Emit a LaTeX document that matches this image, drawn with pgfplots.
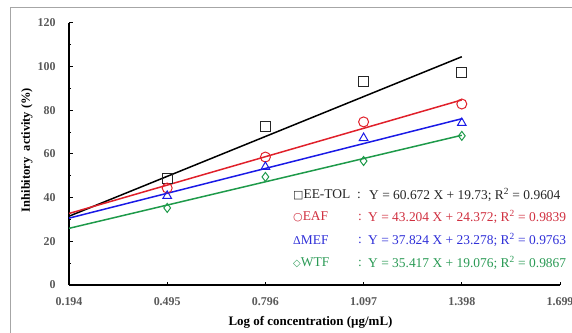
\documentclass[border=0pt]{standalone}
\usepackage{pgfplots}
\pgfplotsset{compat=1.18}
\usepackage{fontspec}
\setmainfont{Liberation Serif}
\newfontfamily\symfont{DejaVu Sans}
\definecolor{cEE}{HTML}{000000}
\definecolor{cEAF}{HTML}{E0202A}
\definecolor{cMEF}{HTML}{1A1AE6}
\definecolor{cWTF}{HTML}{1E9A4A}
\definecolor{tEAF}{HTML}{D03040}
\definecolor{tMEF}{HTML}{3030D8}
\definecolor{tWTF}{HTML}{2A9A55}
\definecolor{tickgray}{HTML}{595959}
\begin{document}
\begin{tikzpicture}
\useasboundingbox (-69bp,-48bp) rectangle (503bp,285bp);
\draw[black!35, line width=0.8bp] (-59bp,-60bp) -- (-59bp,278bp) -- (520bp,278bp);
\begin{axis}[
  scale only axis,
  width=491bp, height=262bp,
  xmin=0.194, xmax=1.699, ymin=0, ymax=120,
  axis lines=left,
  axis line style={-, line width=1.6bp},
  xtick={0.194,0.495,0.796,1.097,1.398,1.699},
  xticklabels={0.194,0.495,0.796,1.097,1.398,1.699},
  ytick={0,20,40,60,80,100,120},
  minor y tick num=1,
  tick align=inside,
  major tick length=3.5bp, minor tick length=2.5bp,
  tick style={black, line width=1bp},
  /pgf/number format/assume math mode=true,
  ticklabel style={font=\fontsize{12}{14}\selectfont\bfseries, text=tickgray},
  xticklabel style={anchor=center, yshift=-17bp},
  yticklabel style={anchor=east, xshift=-10bp},
  xlabel={Log of concentration (\textmu g/mL)},
  ylabel={Inhibitory\ \ activity (\%)},
  xlabel style={font=\fontsize{13}{15}\selectfont\bfseries, at={(axis description cs:0.5,0)}, anchor=center, yshift=-37bp, xshift=-4bp},
  ylabel style={font=\fontsize{12.5}{15}\selectfont\bfseries, at={(axis description cs:0,0.5)}, anchor=center, yshift=42bp, xshift=4bp},
  clip=false,
]
% regression lines
\addplot[cEE, line width=1.5bp] coordinates {(0.194,31.50) (1.398,104.55)};
\addplot[cEAF, line width=1.5bp] coordinates {(0.194,32.75) (1.398,84.77)};
\addplot[cMEF, line width=1.5bp] coordinates {(0.194,30.62) (1.398,76.16)};
\addplot[cWTF, line width=1.5bp] coordinates {(0.194,25.95) (1.398,68.59)};
% data points
\addplot[only marks, mark=square, mark size=5bp, mark options={draw=black!85, line width=1bp, fill=none}]
  coordinates {(0.495,48.6) (0.796,72.4) (1.097,93.0) (1.398,97.1)};
\addplot[only marks, mark=o, mark size=5bp, mark options={draw=cEAF, line width=1bp, fill=none}]
  coordinates {(0.495,44.4) (0.796,58.6) (1.097,74.7) (1.398,82.9)};
\addplot[only marks, mark=triangle, mark size=5bp, mark options={draw=cMEF, line width=1bp, fill=none}]
  coordinates {(0.495,40.8) (0.796,54.1) (1.097,67.3) (1.398,74.2)};
\addplot[only marks, mark=diamond, mark size=4.5bp, mark options={draw=cWTF, line width=1bp, fill=none}]
  coordinates {(0.495,35.3) (0.796,49.5) (1.097,56.8) (1.398,68.3)};
\end{axis}
\begin{scope}[every node/.style={inner sep=0pt, font=\fontsize{13.5}{16}\selectfont}]
\node[anchor=west, text=black!85] at (224bp,90bp) {{\symfont\fontsize{11}{13}\selectfont □}EE-TOL};
\node[text=black!85] at (290bp,90bp) {:};
\node[anchor=west, text=black!85] at (300bp,90bp) {Y = 60.672 X + 19.73; R\textsuperscript{2} = 0.9604};
\node[anchor=west, text=tEAF] at (224bp,68bp) {{\symfont\fontsize{11}{13}\selectfont ○}EAF};
\node[text=tEAF] at (291bp,68bp) {:};
\node[anchor=west, text=tEAF] at (299bp,68bp) {Y = 43.204 X + 24.372; R\textsuperscript{2} = 0.9839};
\node[anchor=west, text=tMEF] at (224bp,45bp) {{\fontsize{12}{13}\selectfont Δ}MEF};
\node[text=tMEF] at (291bp,45bp) {:};
\node[anchor=west, text=tMEF] at (299bp,45bp) {Y = 37.824 X + 23.278; R\textsuperscript{2} = 0.9763};
\node[anchor=west, text=tWTF] at (224bp,22bp) {{\symfont\fontsize{10}{13}\selectfont ◇}WTF};
\node[text=tWTF] at (291bp,22bp) {:};
\node[anchor=west, text=tWTF] at (299bp,22bp) {Y = 35.417 X + 19.076; R\textsuperscript{2} = 0.9867};
\end{scope}
\end{tikzpicture}
\end{document}
